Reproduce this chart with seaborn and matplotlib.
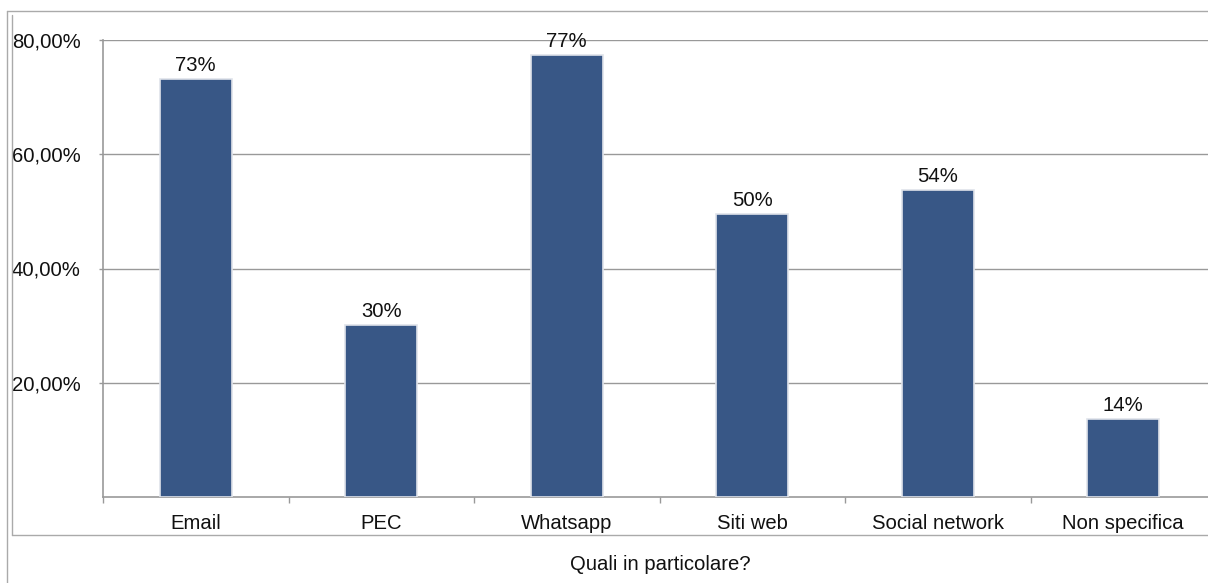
import matplotlib
matplotlib.use('Agg')
import matplotlib.pyplot as plt
from matplotlib.lines import Line2D
import seaborn as sns
import pandas as pd

# ── DATA ──────────────────────────────────────────────────
categories = ['Email', 'PEC', 'Whatsapp', 'Siti web', 'Social network', 'Non specifica']
values = [73.2, 30.1, 77.3, 49.5, 53.8, 13.7]
bar_labels = ['73%', '30%', '77%', '50%', '54%', '14%']
yticks = [20, 40, 60, 80]
ytick_labels = ['20,00%', '40,00%', '60,00%', '80,00%']
xlabel = 'Quali in particolare?'

df = pd.DataFrame({'cat': categories, 'val': values})

sns.set_style('white')
plt.rcParams['font.family'] = ['Liberation Sans', 'DejaVu Sans']
FS = 14.6

W, H = 1208, 583
fig = plt.figure(figsize=(W / 100, H / 100), dpi=100, facecolor='white')
# axes runs a little past the right edge, like the reference crop
ax = fig.add_axes([103 / W, 1 - 497 / H, (1216 - 103) / W, (497 - 40) / H])

sns.barplot(data=df, x='cat', y='val', color='#385786', saturation=1,
            width=0.39, edgecolor='#dfe3ea', linewidth=1.2, ax=ax, zorder=3)

for i, (v, lab) in enumerate(zip(values, bar_labels)):
    ax.text(i, v + 0.7, lab, ha='center', va='bottom', fontsize=FS, color='#111')

ax.set_ylim(0, 80)
ax.set_xlim(-0.5, 5.5)
ax.set_yticks(yticks)
ax.set_yticklabels(ytick_labels, fontsize=FS, color='#111')
ax.tick_params(axis='y', length=3, width=1, color='#999', pad=13, left=True)
ax.tick_params(axis='x', length=0, labelsize=FS, labelcolor='#111', pad=12)
# category separator ticks on the x axis
ax.set_xticks([i + 0.5 for i in range(-1, 6)], minor=True)
ax.tick_params(axis='x', which='minor', length=4, width=1, color='#999', bottom=True, direction='out')

ax.grid(axis='y', color='#999', linewidth=1, zorder=0)
for s in ['top', 'right']:
    ax.spines[s].set_visible(False)
for s in ['left', 'bottom']:
    ax.spines[s].set_color('#999')
    ax.spines[s].set_linewidth(1.2)

ax.set_xlabel('')
ax.set_ylabel('')
fig.text(660 / W, 1 - 565 / H, xlabel, ha='center', va='center', fontsize=FS, color='#111')

# outer frames
def fline(x0, y0, x1, y1):
    fig.add_artist(Line2D([x0 / W, x1 / W], [1 - y0 / H, 1 - y1 / H],
                          color='#aaa', linewidth=1, transform=fig.transFigure))

fline(7, 11, 1208, 11)
fline(7, 11, 7, 583)
fline(11.5, 15, 11.5, 535)
fline(11.5, 535, 1208, 535)

fig.savefig('out.png', dpi=100, facecolor='white')
